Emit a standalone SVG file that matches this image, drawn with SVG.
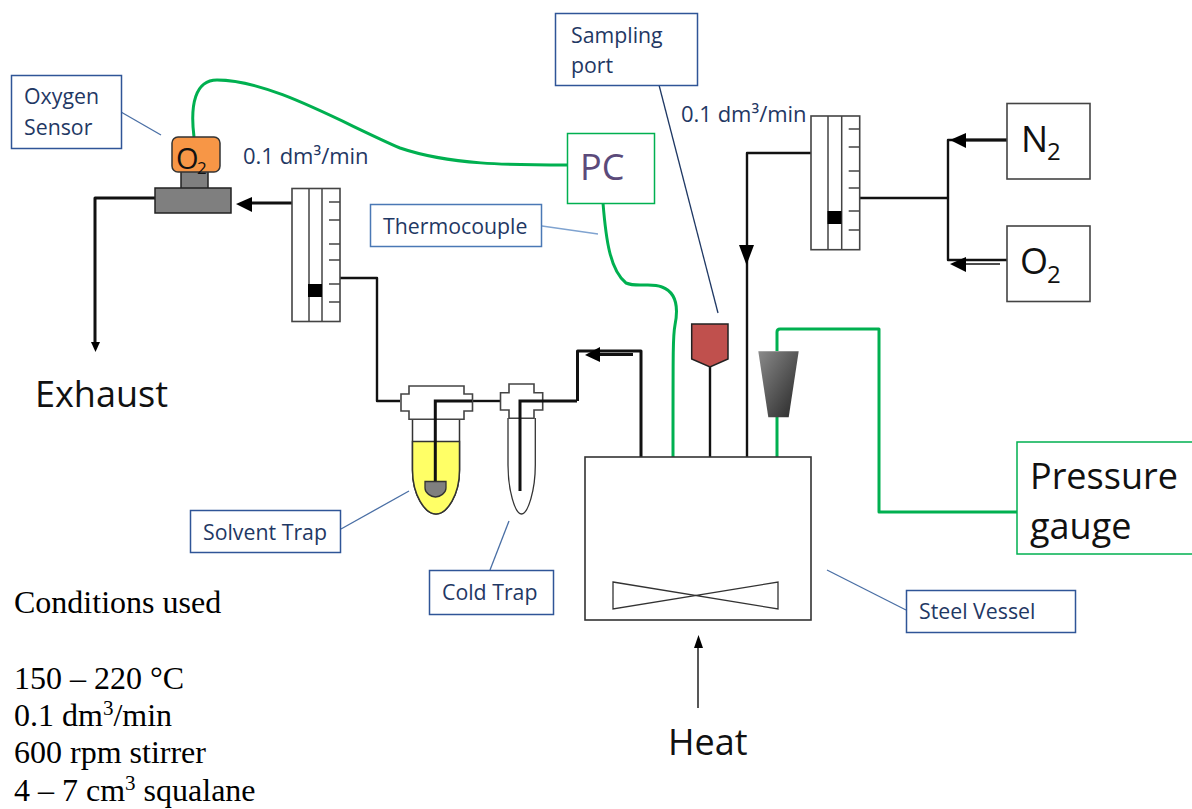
<svg xmlns="http://www.w3.org/2000/svg" width="1192" height="809" viewBox="0 0 1192 809">
<style>
text{font-family:"Open Sans","Noto Sans",sans-serif}
.lb{fill:#fff;stroke:#2f5597;stroke-width:1.5}
.lt{fill:#1f3864;font-size:21.300px}
.ft{fill:#1f3864;font-size:22px}
.ll{stroke:#4a6fa5;stroke-width:1.300;fill:none}
.big{fill:#111;font-size:36px}
.ser{font-family:"Liberation Serif",serif;font-size:32px;fill:#000}
.k{fill:none;stroke:#111;stroke-width:3;stroke-linejoin:round}
.kt{fill:none;stroke:#111;stroke-width:2.400;stroke-linejoin:round}
.thin{fill:none;stroke:#111;stroke-width:1.400}
.g{fill:none;stroke:#00b050;stroke-width:3;stroke-linejoin:round}
.o{stroke:#444;stroke-width:1.500}
.w{fill:#fff;stroke:#444;stroke-width:1.600}
.h{fill:#000}
</style>
<defs>
<linearGradient id="gr" x1="0" y1="0" x2="1" y2="1"><stop offset="0" stop-color="#8a8a8a"/><stop offset="1" stop-color="#262626"/></linearGradient>
</defs>
<g id="connectors">
<path class="g" d="M194 137C190 105 195 80 217 80C270 80 340 122 400 148C450 165 510 165 567 165"/>
<path class="g" d="M603 203C606 240 610 270 626 283C638 288 650 282 662 287C678 293 678 310 675 325C673 335 673 345 673 457"/>
<path class="g" d="M777 457V417M777 351V332Q777 329 780 329H879V512H1017"/>
<path class="k" d="M155 198H95V345"/>
<path class="h" d="M91 342H100L95.500 352Z"/>
<path class="k" d="M292 203H246"/><path class="h" d="M236 204L252 197V212Z"/>
<path class="kt" d="M340 278H377V401H400"/>
<path class="kt" d="M472 401H500"/>
<path class="k" d="M577.500 401V351H641V457"/>
<path class="k" d="M600 354.500H633"/><path class="h" d="M585 355L600 347V362Z"/>
<path class="kt" d="M710 367V457"/>
<path class="kt" d="M747 457V153H811"/>
<path class="h" d="M739 245H754L746.500 265Z"/>
<path class="kt" d="M860 198H948"/>
<path class="kt" d="M1007 260H948V140H1007"/>
<path class="k" d="M966 140H1007"/><path class="h" d="M950 140L966 133V148Z"/>
<path class="thin" d="M966 264H1000"/><path class="h" d="M950 264L966 257V272Z"/>
<path class="ll" d="M121 112L161 135"/>
<path class="ll" d="M341 529L409 491"/>
<path class="ll" d="M490 570L509 521"/>
<path class="ll" d="M542 226L598 234" style="stroke:#7fa3d0"/>
<path class="ll" d="M659 85L718 313" style="stroke:#1f3864"/>
<path class="ll" d="M827 570L906 610"/>
<path class="thin" d="M698 708V645"/><path class="h" d="M694 648H703L698.500 635Z"/>
</g>
<g id="oxygen-sensor-label"><rect class="lb" x="11.500" y="75.500" width="110" height="73"/><text class="lt" x="24" y="104">Oxygen</text><text class="lt" x="24" y="135">Sensor</text></g>
<g id="o2-sensor">
<rect x="181" y="170" width="27" height="19" fill="#7f7f7f" stroke="#222" stroke-width="1.500"/>
<rect x="172" y="137" width="48" height="35" rx="6" fill="#f79646" stroke="#333" stroke-width="1.500"/>
<text x="176" y="169" font-size="29" fill="#111">O</text><text x="197" y="174" font-size="17" fill="#111">2</text>
<rect x="155" y="188" width="76" height="25" fill="#7f7f7f" stroke="#222" stroke-width="1.500"/>
</g>
<g id="flow-left"><text class="ft" x="243" y="164">0.1 dm³/min</text></g>
<g id="rotameter-left">
<rect class="w" x="292" y="188.500" width="48" height="133"/>
<path class="o" fill="none" d="M309 188V322M322 188V322M329 202H340M329 220H340M329 244H340M329 260H340M329 284H340M329 302H340"/>
<rect x="308" y="284" width="14" height="13" fill="#000"/>
</g>
<g id="solvent-trap">
<path d="M412.500 419V470C412.500 495 425 514 436 514C447 514 459.500 495 459.500 470V419Z" fill="#fff" stroke="#333" stroke-width="1.500"/>
<path d="M412.500 441.500V470C412.500 495 425 514 436 514C447 514 459.500 495 459.500 470V441.500Z" fill="#ffff66" stroke="#333" stroke-width="1.500"/>
<path d="M401 394H409V386H464V394H472.500V411H464V419.300H409V411H401Z" fill="#fff" stroke="#444" stroke-width="1.600"/>
<path d="M435.300 482V401H472" stroke="#111" stroke-width="3" fill="none"/>
<path d="M425 481.500H446V488C446 493 440 497 435.500 497C431 497 425 493 425 488Z" fill="#7f7f7f" stroke="#333" stroke-width="1.300"/>
</g>
<g id="cold-trap">
<path d="M508 418V465C508 490 515 514 521.500 514C528 514 535.300 490 535.300 465V418" fill="#fff" stroke="#333" stroke-width="1.300"/>
<path d="M500.500 392.700H509V384H534V392.700H542.700V410H534V418.300H509V410H500.500Z" fill="#fff" stroke="#444" stroke-width="1.600"/>
<path d="M520 491V401H577" stroke="#111" stroke-width="3" fill="none"/>
</g>
<g id="solvent-trap-label"><rect class="lb" x="190.500" y="510.500" width="150" height="42"/><text class="lt" x="203" y="540">Solvent Trap</text></g>
<g id="cold-trap-label"><rect class="lb" x="429.500" y="570.500" width="124" height="44"/><text class="lt" x="442" y="600">Cold Trap</text></g>
<g id="thermocouple-label"><rect fill="#fff" stroke="#4a78b5" stroke-width="1.500" x="370.500" y="204.500" width="171" height="42"/><text class="lt" x="383" y="234">Thermocouple</text></g>
<g id="pc"><rect x="567.500" y="133.500" width="87" height="70" fill="#fff" stroke="#00b050" stroke-width="1.500"/><text x="580" y="180" font-size="36" fill="#5b4a7a">PC</text></g>
<g id="sampling-port-label"><rect class="lb" x="555.500" y="13.500" width="142" height="72"/><text class="lt" x="571" y="43">Sampling</text><text class="lt" x="571" y="73">port</text></g>
<g id="sampling-valve"><path d="M691.700 324H728V359L710 367L691.700 359Z" fill="#c0504d" stroke="#222" stroke-width="1.500"/></g>
<g id="gauge-valve"><path d="M758.300 351.300H798.700L788.700 417.300H768.300Z" fill="url(#gr)"/></g>
<g id="flow-right"><text class="ft" x="681" y="122">0.1 dm³/min</text></g>
<g id="rotameter-right">
<rect class="w" x="811" y="116" width="48.700" height="133.700"/>
<path class="o" fill="none" d="M828 116V250M841.700 116V250M848.700 129H860M848.700 147H860M848.700 171H860M848.700 188H860M848.700 211H860M848.700 230H860"/>
<rect x="827.500" y="211" width="14" height="13" fill="#000"/>
</g>
<g id="n2"><rect class="w" x="1007" y="103.500" width="83" height="75.500"/><text x="1021" y="152" font-size="36" fill="#111">N</text><text x="1047" y="160" font-size="24" fill="#111">2</text></g>
<g id="o2"><rect class="w" x="1007" y="226" width="83" height="75.500"/><text x="1020" y="274" font-size="36" fill="#111">O</text><text x="1047" y="283" font-size="24" fill="#111">2</text></g>
<g id="pressure-gauge"><rect x="1017" y="442" width="190" height="112" fill="#fff" stroke="#00b050" stroke-width="1.500"/><text class="big" x="1030" y="489">Pressure</text><text class="big" x="1030" y="539">gauge</text></g>
<g id="vessel">
<rect x="585" y="457" width="226" height="163" fill="#fff" stroke="#333" stroke-width="1.600"/>
<path d="M613 582L778 609V582L613 609Z" fill="#fff" stroke="#333" stroke-width="1.300"/>
</g>
<g id="steel-vessel-label"><rect class="lb" x="906.500" y="590.500" width="169" height="42"/><text class="lt" x="919" y="619">Steel Vessel</text></g>
<g id="exhaust"><text class="big" x="35" y="407">Exhaust</text></g>
<g id="heat"><text class="big" x="668" y="755">Heat</text></g>
<g id="conditions">
<text class="ser" x="14" y="613">Conditions used</text>
<text class="ser" x="14" y="689">150 – 220 °C</text>
<text class="ser" x="14" y="726">0.1 dm<tspan font-size="21" dy="-11">3</tspan><tspan dy="11">/min</tspan></text>
<text class="ser" x="14" y="763">600 rpm stirrer</text>
<text class="ser" x="14" y="801">4 – 7 cm<tspan font-size="21" dy="-11">3</tspan><tspan dy="11"> squalane</tspan></text>
</g>
</svg>
